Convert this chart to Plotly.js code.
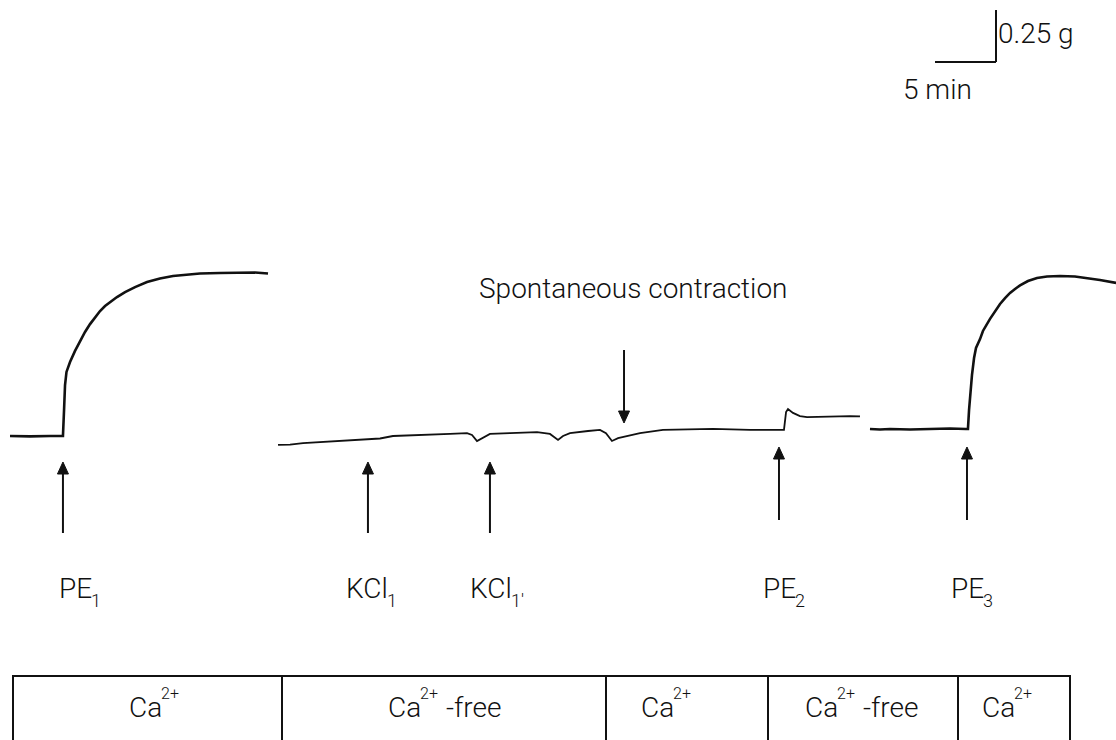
<!DOCTYPE html>
<html>
<head>
<meta charset="utf-8">
<script src="https://cdn.plot.ly/plotly-3.0.1.min.js"></script>
<style>
  html, body { margin: 0; padding: 0; background: #fff; }
  #chart { width: 1116px; height: 740px; }
</style>
</head>
<body>
<div id="chart"></div>
<script>
// Isometric tension record: time in minutes, tension in grams (relative to the PE1 resting baseline).

// Ca2+ bath: resting tone, then phenylephrine (PE1) contraction
const seg1Time = [0.82, 2.46, 4.10, 5.08, 5.16, 5.25, 5.33, 5.45, 5.74, 6.15, 6.56, 6.97, 7.38, 7.79, 8.20, 8.61, 9.02, 9.59, 10.25, 11.07, 12.05, 13.11, 14.18, 15.33, 16.39, 18.03, 19.67, 20.90, 21.97];
const seg1Tension = [0, -0.002, 0, -0.002, 0, 0.125, 0.245, 0.308, 0.356, 0.409, 0.457, 0.500, 0.538, 0.572, 0.601, 0.625, 0.644, 0.668, 0.692, 0.716, 0.740, 0.757, 0.769, 0.776, 0.781, 0.784, 0.786, 0.786, 0.781];

// Ca2+-free bath with KCl additions, then Ca2+ and PE2
const seg2Time = [22.79, 23.77, 24.84, 26.23, 27.87, 29.10, 30.33, 31.15, 32.21, 33.61, 35.25, 36.89, 38.28, 38.69, 39.10, 39.51, 40.16, 41.80, 44.02, 45.08, 45.74, 46.15, 46.72, 48.20, 49.18, 49.67, 50.16, 50.66, 51.07, 52.46, 54.34, 56.56, 58.44, 61.48, 64.26, 64.43, 64.59, 65.00, 65.57, 66.15, 68.03, 69.67, 70.49];
const seg2Tension = [-0.043, -0.041, -0.034, -0.029, -0.024, -0.019, -0.014, -0.012, 0, 0.002, 0.005, 0.010, 0.014, 0.005, -0.024, -0.010, 0.010, 0.014, 0.019, 0.010, -0.019, 0, 0.014, 0.024, 0.029, 0.014, -0.024, -0.010, -0.005, 0.014, 0.029, 0.031, 0.034, 0.029, 0.029, 0.115, 0.130, 0.111, 0.096, 0.091, 0.094, 0.096, 0.094];

// Ca2+-free then Ca2+ bath: PE3 contraction
const seg3Time = [71.31, 72.13, 72.95, 74.59, 76.23, 77.87, 79.18, 79.34, 79.43, 79.55, 79.67, 79.84, 80.00, 80.33, 80.57, 81.15, 81.56, 81.97, 82.38, 82.79, 83.20, 83.61, 84.26, 85.00, 85.82, 86.89, 88.11, 89.10, 90.16, 91.48];
const seg3Tension = [0.034, 0.031, 0.034, 0.031, 0.034, 0.036, 0.034, 0.034, 0.125, 0.221, 0.293, 0.375, 0.423, 0.466, 0.505, 0.563, 0.601, 0.635, 0.663, 0.688, 0.707, 0.724, 0.745, 0.760, 0.767, 0.769, 0.767, 0.760, 0.750, 0.736];

// Drug additions (time in minutes); label = agent + subscript index
const eventAgents = ['PE', 'KCl', 'KCl', 'PE', 'PE'];
const eventIndices = ['1', '1', "1'", '2', '3'];
const eventTimes = [5.16, 30.16, 40.16, 63.85, 79.26];
const spontaneousTime = [51.15];
const spontaneousLabel = 'Spontaneous contraction';

// Scale bar
const scaleValues = [5, 0.25];          // minutes, grams
const scaleLabels = ['5 min', '0.25 g'];

// Bath solution periods: ion, charge (superscript), qualifier
const bathIon = ['Ca', 'Ca', 'Ca', 'Ca', 'Ca'];
const bathCharge = ['2+', '2+', '2+', '2+', '2+'];
const bathQualifier = ['', '-free', '', '-free', ''];

// ---- page geometry helpers ----
const W = 1116, H = 740;
const PXPERMIN = 12.2, PXPERG = 208;
const PX = p => p / W;          // pixel x -> paper
const PY = p => 1 - p / H;      // pixel y -> paper

const FAMILY = 'Roboto, "Liberation Sans", Arial, sans-serif';
const MAIN = 28, SMALL_SUB = 18, SMALL_SUP = 16;
const font = size => ({ family: FAMILY, size: size, color: '#111', weight: 300 });
const INK = '#111';

// text width for placing sub/superscripts next to their base text
const ctx = document.createElement('canvas').getContext('2d');
function textWidth(str, size) {
  ctx.font = `300 ${size}px Roboto, "Liberation Sans", Arial, sans-serif`;
  return ctx.measureText(str).width;
}

function label(text, leftPx, midPx, size) {
  return { x: PX(leftPx), xref: 'paper', y: PY(midPx), yref: 'paper', xanchor: 'left', yanchor: 'middle',
           text: text, showarrow: false, font: font(size), borderpad: 0 };
}

function build() {
  const data = [
    { x: seg1Time, y: seg1Tension, mode: 'lines', line: { color: INK, width: 2.6 }, hoverinfo: 'skip', showlegend: false },
    { x: seg2Time, y: seg2Tension, mode: 'lines', line: { color: INK, width: 1.8 }, hoverinfo: 'skip', showlegend: false },
    { x: seg3Time, y: seg3Tension, mode: 'lines', line: { color: INK, width: 2.6 }, hoverinfo: 'skip', showlegend: false }
  ];

  const annotations = [];
  const shapes = [];

  // Arrow drawn as a shaft plus a filled head; x in minutes, y in page pixels
  function arrow(t, tipPx, tailPx) {
    const dir = tailPx > tipPx ? 1 : -1;
    const headLen = 12, halfW = 5.5;
    const dx = halfW / PXPERMIN;
    const baseY = tipPx + dir * headLen;
    shapes.push({ type: 'line', xref: 'x', yref: 'paper', x0: t, x1: t, y0: PY(tailPx), y1: PY(baseY), line: { color: INK, width: 2 } });
    shapes.push({
      type: 'path', xref: 'x', yref: 'paper',
      path: `M ${t} ${PY(tipPx)} L ${t - dx} ${PY(baseY)} L ${t + dx} ${PY(baseY)} Z`,
      fillcolor: INK, line: { color: INK, width: 1 }
    });
  }

  // Upward arrows at each addition, with labels beneath
  const arrowTip = [462, 462, 462, 447, 447];
  const arrowTail = [533, 533, 533, 520, 520];
  const labelLeft = [58, 345, 469, 762, 950];
  eventTimes.forEach((t, i) => {
    arrow(t, arrowTip[i], arrowTail[i]);
    annotations.push(label(eventAgents[i], labelLeft[i], 588, MAIN));
    const subLeft = labelLeft[i] + textWidth(eventAgents[i], MAIN) - 1;
    annotations.push(label(eventIndices[i], subLeft, 600, SMALL_SUB));
  });

  // Downward arrow at the spontaneous contraction
  arrow(spontaneousTime[0], 423, 350);
  annotations.push({ x: PX(633), xref: 'paper', y: PY(288), yref: 'paper', xanchor: 'center', yanchor: 'middle',
                     text: spontaneousLabel, showarrow: false, font: font(MAIN) });

  // Scale bar in data units
  const sbT = 81.64, sbG = 1.798;
  shapes.push({ type: 'line', xref: 'x', yref: 'y', x0: sbT - scaleValues[0], x1: sbT, y0: sbG, y1: sbG, line: { color: INK, width: 2 } });
  shapes.push({ type: 'line', xref: 'x', yref: 'y', x0: sbT, x1: sbT, y0: sbG, y1: sbG + scaleValues[1], line: { color: INK, width: 2 } });
  annotations.push(label(scaleLabels[1], 997, 34, MAIN));
  annotations.push(label(scaleLabels[0], 902, 90, MAIN));

  // Bath solution table
  const cellEdges = [13, 282, 606, 768, 958, 1070];
  const textLeft = [128, 387, 640, 804, 981];
  shapes.push({ type: 'line', xref: 'paper', yref: 'paper', x0: PX(12), x1: PX(1071), y0: PY(676), y1: PY(676), line: { color: INK, width: 2 } });
  cellEdges.forEach(e => {
    shapes.push({ type: 'line', xref: 'paper', yref: 'paper', x0: PX(e), x1: PX(e), y0: PY(676), y1: PY(742), line: { color: INK, width: 2 } });
  });
  bathIon.forEach((ion, i) => {
    const l0 = textLeft[i];
    annotations.push(label(ion, l0, 707, MAIN));
    const l1 = l0 + textWidth(ion, MAIN) - 1;
    annotations.push(label(bathCharge[i], l1, 693, SMALL_SUP));
    if (bathQualifier[i]) {
      const l2 = l1 + textWidth(bathCharge[i], SMALL_SUP) + 8;
      annotations.push(label(bathQualifier[i], l2, 707, MAIN));
    }
  });

  const layout = {
    width: W, height: H,
    margin: { l: 0, r: 0, t: 0, b: 0, pad: 0 },
    paper_bgcolor: '#fff', plot_bgcolor: '#fff',
    xaxis: { range: [0, W / PXPERMIN], visible: false, fixedrange: true },
    yaxis: { range: [-(H - 436) / PXPERG, 436 / PXPERG], visible: false, fixedrange: true },
    showlegend: false,
    annotations: annotations,
    shapes: shapes,
    font: font(MAIN)
  };

  Plotly.newPlot('chart', data, layout, { displayModeBar: false, staticPlot: true });
}

const ready = (document.fonts && document.fonts.load)
  ? Promise.all([document.fonts.load(`300 ${MAIN}px Roboto`), document.fonts.load(`300 ${SMALL_SUP}px Roboto`)]).catch(() => null)
  : Promise.resolve();
ready.then(build);
</script>
</body>
</html>
